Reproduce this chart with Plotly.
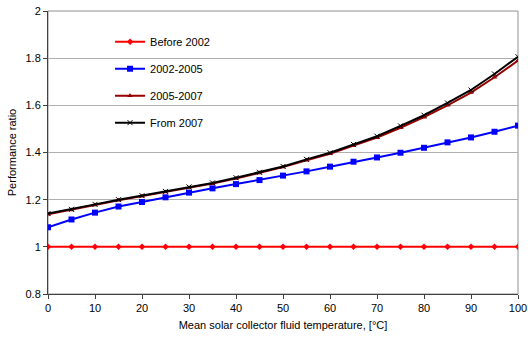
import plotly.graph_objects as go

temps = list(range(0, 101, 5))

before_2002 = [1.0] * 21
y2002_2005 = [1.083, 1.116, 1.145, 1.171, 1.19, 1.21, 1.23, 1.248, 1.266, 1.283,
              1.302, 1.32, 1.34, 1.361, 1.379, 1.399, 1.42, 1.443, 1.464, 1.488, 1.514]
y2005_2007 = [1.138, 1.156, 1.177, 1.197, 1.214, 1.232, 1.251, 1.268, 1.29, 1.313,
              1.338, 1.367, 1.395, 1.429, 1.463, 1.505, 1.55, 1.6, 1.654, 1.719, 1.79]
from_2007 = [1.141, 1.159, 1.18, 1.2, 1.217, 1.235, 1.254, 1.271, 1.293, 1.316,
             1.341, 1.371, 1.399, 1.434, 1.469, 1.513, 1.558, 1.61, 1.665, 1.733, 1.806]

font = "Liberation Sans, Arial, sans-serif"

fig = go.Figure()

fig.add_trace(go.Scatter(x=temps, y=before_2002, name="Before 2002", mode="lines+markers",
                         line=dict(color="#ff0000", width=2),
                         marker=dict(symbol="diamond", size=5, color="#ff0000"),
                         legendgroup="a"))
fig.add_trace(go.Scatter(x=temps, y=y2002_2005, name="2002-2005", mode="lines+markers",
                         line=dict(color="#0000ff", width=2),
                         marker=dict(symbol="square", size=6, color="#0000ff"),
                         legendgroup="b"))
fig.add_trace(go.Scatter(x=temps, y=y2005_2007, name="2005-2007", mode="lines+markers",
                         line=dict(color="#990000", width=2),
                         marker=dict(symbol="triangle-up", size=5, color="#990000"),
                         legendgroup="c"))
fig.add_trace(go.Scatter(x=temps, y=from_2007, name="From 2007", mode="lines+markers",
                         line=dict(color="#000000", width=2),
                         marker=dict(symbol="x-thin-open", size=5, color="#000000",
                                     line=dict(color="#000000", width=1)),
                         legendgroup="d"))

# grey frame round the plot area
fig.add_shape(type="rect", xref="paper", yref="paper", x0=0, y0=0, x1=1, y1=1,
              line=dict(color="#909090", width=1), layer="below")
# white patch behind the legend, hides the gridlines there
fig.add_shape(type="rect", xref="paper", yref="paper", x0=0.102, y0=0.545, x1=0.379, y1=0.94,
              line=dict(width=0), fillcolor="white", layer="between")

fig.update_layout(
    width=528, height=340,
    margin=dict(l=48, r=10, t=11, b=46),
    paper_bgcolor="white", plot_bgcolor="white",
    font=dict(family=font, size=11, color="#000000"),
    showlegend=True,
    legend=dict(x=0.132, y=0.943, xanchor="left", yanchor="top",
                bgcolor="rgba(0,0,0,0)", borderwidth=0,
                font=dict(family=font, size=11),
                itemwidth=30, traceorder="grouped", tracegroupgap=8),
    xaxis=dict(range=[0, 100], dtick=10, tick0=0, automargin=False,
               showgrid=False, zeroline=False,
               showline=True, linecolor="#404040", linewidth=1,
               ticks="outside", ticklen=4, tickcolor="#404040",
               title=dict(text="Mean solar collector fluid temperature, [°C]",
                          font=dict(family=font, size=11), standoff=8)),
    yaxis=dict(range=[0.8, 2.0], dtick=0.2, tick0=0.8, automargin=False,
               showgrid=True, gridcolor="#b0b0b0", gridwidth=1,
               zeroline=False,
               showline=True, linecolor="#404040", linewidth=1,
               ticks="outside", ticklen=4, tickcolor="#404040",
               title=dict(text="Performance ratio",
                          font=dict(family=font, size=11), standoff=6)),
)

fig.write_html("out.html", config={"displayModeBar": False},
               post_script="document.body.style.margin='0';")
